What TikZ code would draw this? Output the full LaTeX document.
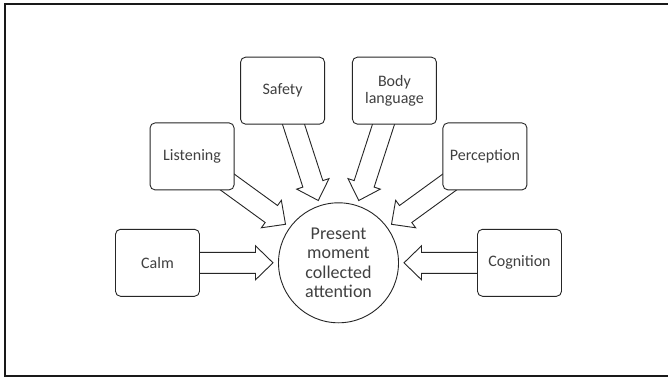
\documentclass[tikz,border=0pt]{standalone}
\usepackage{fontspec}
\setmainfont{Carlito}
\usetikzlibrary{calc}
\begin{document}
\begin{tikzpicture}[x=1pt,y=1pt,
  frame/.style={draw=black!90, line width=2pt},
  stage/.style={draw=black!85, line width=0.9pt, rounded corners=5pt, fill=white,
    minimum width=84pt, minimum height=67pt, align=center, text=black!75,
    font=\fontsize{16}{17.5}\selectfont, inner sep=2pt},
  hub/.style={circle, draw=black!85, line width=0.9pt, fill=white, minimum size=120pt,
    align=center, text=black!75, font=\fontsize{18}{19.6}\selectfont, inner sep=0pt},
  blockarrow/.style={draw=black!85, line width=0.9pt, fill=white, line join=miter}]
\useasboundingbox (0,0) rectangle (668,378);
\clip (0,0) rectangle (668,378);
\fill[white] (0,0) rectangle (668,378);
% outer frame (right side runs past the page edge)
\draw[frame] (5,374) rectangle (676,1.7);
% central circle
\node[hub] (c) at (338.5,115.2) {Present\\moment\\collected\\attention};
% six boxes on a half ring, each with a block arrow pointing at the circle
\foreach \a/\n/\lbl in {180/calm/Calm, 144/listen/Listening, 108/safety/Safety,
    72/body/{Body\\language}, 36/percep/Perception, 0/cogn/Cognition} {
  \begin{scope}[shift={(c.center)}, rotate=\a]
    \draw[blockarrow] (65.5,0) -- (83,17) -- (83,10.5) -- (165,10.5)
      -- (165,-10.5) -- (83,-10.5) -- (83,-17) -- cycle;
  \end{scope}
  \node[stage] (\n) at ($(c.center)+(\a:181)$) {\lbl};
}
\end{tikzpicture}
\end{document}
